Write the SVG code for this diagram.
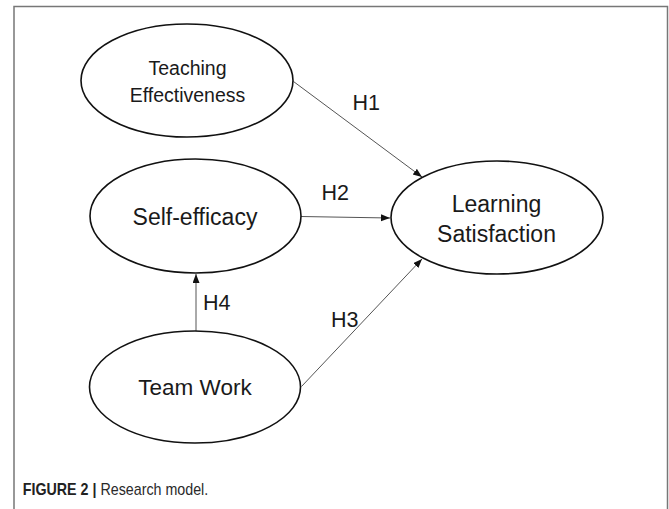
<svg xmlns="http://www.w3.org/2000/svg" width="669" height="509" viewBox="0 0 669 509">
<style>
.node{fill:#fff;stroke:#111;stroke-width:1.6}
.lbl{font-family:"Liberation Sans",Arial,sans-serif;fill:#1a1a1a;text-anchor:middle}
.h{font-family:"Liberation Sans",Arial,sans-serif;fill:#1a1a1a;font-size:21.5px}
.edge{stroke:#555;stroke-width:1;fill:none;marker-end:url(#arr)}
</style>
<defs>
<marker id="arr" markerUnits="userSpaceOnUse" markerWidth="10" markerHeight="8" refX="9" refY="3.5" orient="auto">
<path d="M0,0 L9,3.5 L0,7 z" fill="#111"/>
</marker>
</defs>
<rect x="0" y="0" width="669" height="509" fill="#fff"/>
<rect x="14" y="6.5" width="653.5" height="510" fill="none" stroke="#777" stroke-width="1.5"/>
<g id="connectors">
<line class="edge" x1="293.5" y1="81.5" x2="422" y2="177"/>
<line class="edge" x1="301" y1="216.5" x2="390" y2="218"/>
<line class="edge" x1="301.5" y1="386.5" x2="422" y2="259"/>
<line class="edge" x1="196" y1="331" x2="196" y2="274"/>
<text class="h" x="352.5" y="109.5">H1</text>
<text class="h" x="321.5" y="200">H2</text>
<text class="h" x="331" y="327">H3</text>
<text class="h" x="203" y="310">H4</text>
</g>
<g id="teaching-effectiveness">
<ellipse class="node" cx="187" cy="80.5" rx="106" ry="56.5"/>
<text class="lbl" x="187.5" y="75" font-size="19.5">Teaching</text>
<text class="lbl" x="187.5" y="101.5" font-size="19.5">Effectiveness</text>
</g>
<g id="self-efficacy">
<ellipse class="node" cx="195.5" cy="216" rx="105.5" ry="57"/>
<text class="lbl" x="195" y="225" font-size="23">Self-efficacy</text>
</g>
<g id="learning-satisfaction">
<ellipse class="node" cx="497" cy="217.5" rx="106" ry="56.5"/>
<text class="lbl" x="496.5" y="211.5" font-size="23">Learning</text>
<text class="lbl" x="496.5" y="241.5" font-size="23">Satisfaction</text>
</g>
<g id="team-work">
<ellipse class="node" cx="195" cy="387" rx="105.5" ry="56"/>
<text class="lbl" x="195" y="395" font-size="22.5">Team Work</text>
</g>
<g id="caption">
<text transform="translate(22.7,494.5) scale(0.86,1)" font-family="'Liberation Sans',Arial,sans-serif" font-size="16.6" fill="#2a2a2a"><tspan font-weight="bold" fill="#222">FIGURE 2 | </tspan><tspan>Research model.</tspan></text>
</g>
</svg>
